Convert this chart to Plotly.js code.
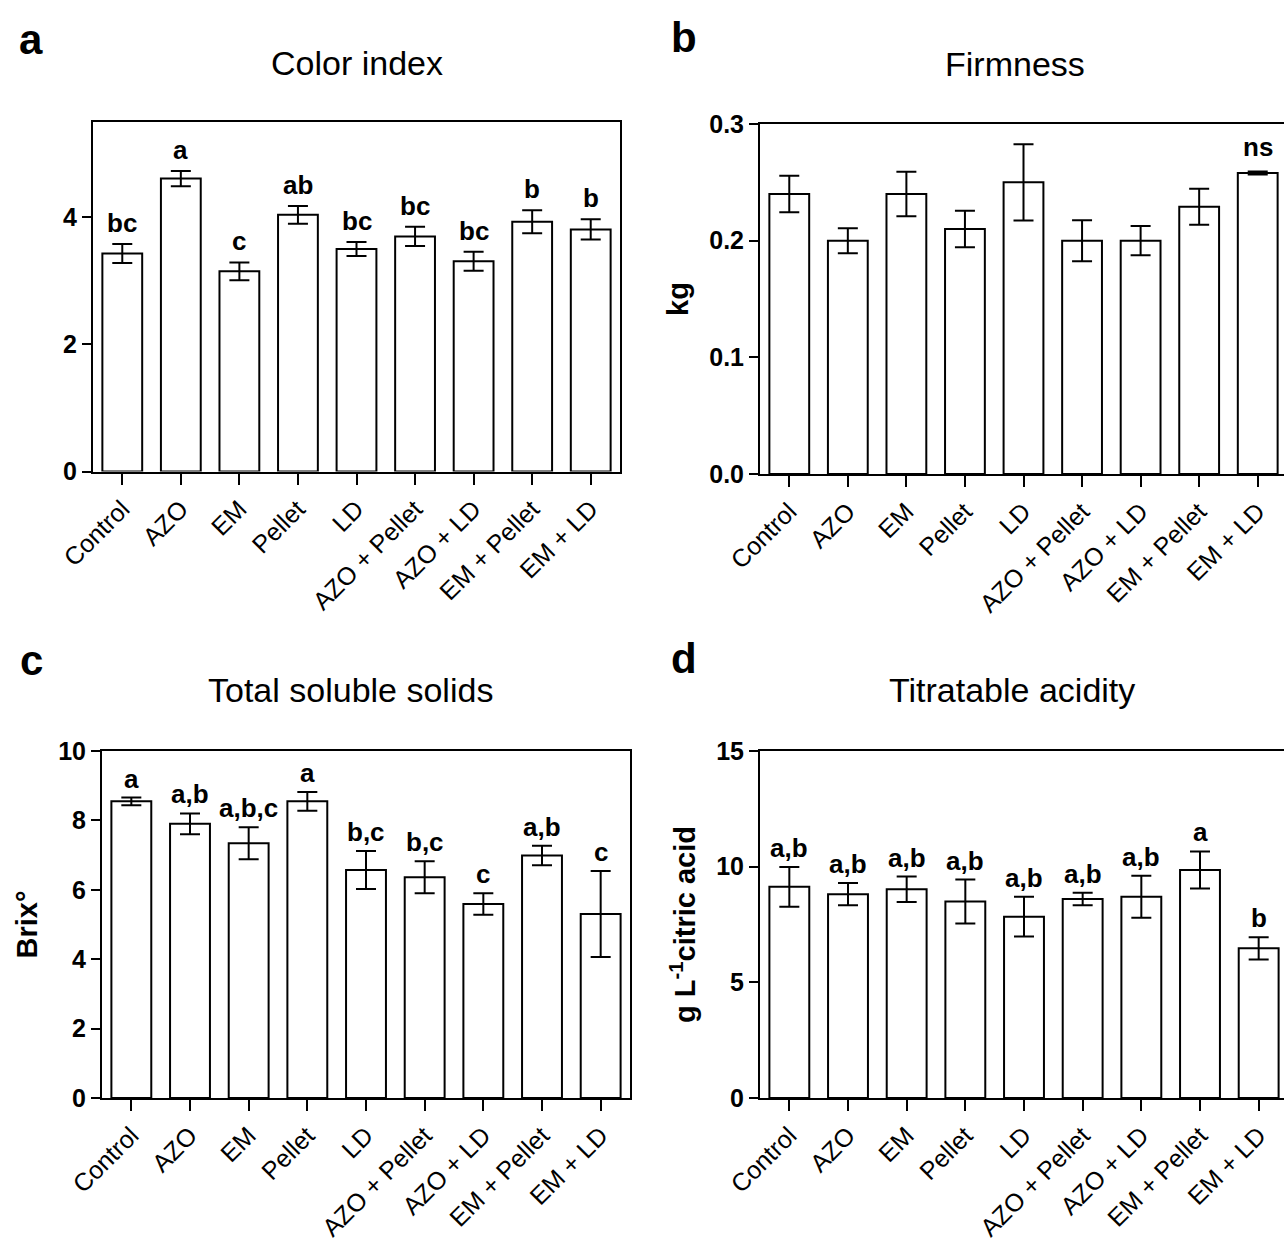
<!DOCTYPE html>
<html>
<head>
<meta charset="utf-8">
<script src="https://cdn.plot.ly/plotly-3.0.1.min.js"></script>
<style>
  html, body { margin: 0; padding: 0; overflow: hidden; background: #fff; }
  #chart { width: 1292px; height: 1245px; }
</style>
</head>
<body>
<div id="chart"></div>
<script>
const categories = ["Control", "AZO", "EM", "Pellet", "LD", "AZO + Pellet", "AZO + LD", "EM + Pellet", "EM + LD"];

const colorIndex = [3.43, 4.61, 3.15, 4.04, 3.50, 3.70, 3.31, 3.93, 3.81];
const colorIndexErr = [0.15, 0.12, 0.14, 0.14, 0.11, 0.15, 0.15, 0.18, 0.16];
const colorIndexLetters = ["bc", "a", "c", "ab", "bc", "bc", "bc", "b", "b"];

const firmness = [0.24, 0.20, 0.24, 0.21, 0.25, 0.20, 0.20, 0.229, 0.258];
const firmnessErr = [0.0157, 0.0107, 0.019, 0.0157, 0.0327, 0.0176, 0.0126, 0.0154, 0.0012];
const firmnessLetters = ["", "", "", "", "", "", "", "", "ns"];

const tss = [8.55, 7.90, 7.34, 8.55, 6.57, 6.36, 5.59, 6.99, 5.30];
const tssErr = [0.11, 0.30, 0.46, 0.27, 0.55, 0.46, 0.31, 0.28, 1.24];
const tssLetters = ["a", "a,b", "a,b,c", "a", "b,c", "b,c", "c", "a,b", "c"];

const acidity = [9.13, 8.81, 9.02, 8.49, 7.84, 8.60, 8.70, 9.86, 6.47];
const acidityErr = [0.86, 0.48, 0.55, 0.95, 0.86, 0.27, 0.91, 0.80, 0.48];
const acidityLetters = ["a,b", "a,b", "a,b", "a,b", "a,b", "a,b", "a,b", "a", "b"];

const W = 1292, H = 1245;
const px = v => v / W;
const py = v => 1 - v / H;

const numFont = {family: "Liberation Sans, Arial", size: 25, color: "#000", weight: "bold"};
const catFont = {family: "Liberation Sans, Arial", size: 25, color: "#000"};
const letterFont = {family: "Liberation Sans, Arial", size: 26, color: "#000", weight: "bold"};
const titleFont = {family: "Liberation Sans, Arial", size: 34, color: "#000"};
const axisTitleFont = {family: "Liberation Sans, Arial", size: 29, color: "#000", weight: "bold"};

function barTrace(vals, errs, xa, ya) {
  return {
    type: "bar", x: categories, y: vals, xaxis: xa, yaxis: ya,
    width: 0.68,
    marker: {color: "#fff", line: {color: "#000", width: 2}},
    error_y: {type: "data", array: errs, visible: true, color: "#000", thickness: 2, width: 10},
    hoverinfo: "skip", showlegend: false
  };
}

const data = [
  barTrace(colorIndex, colorIndexErr, "x", "y"),
  barTrace(firmness, firmnessErr, "x2", "y2"),
  barTrace(tss, tssErr, "x3", "y3"),
  barTrace(acidity, acidityErr, "x4", "y4")
];

function xAxis(d0, d1, anchor) {
  return {
    domain: [px(d0), px(d1)], anchor: anchor, type: "category",
    range: [-0.5, 8.5], showline: true, linecolor: "#000", linewidth: 2, mirror: true,
    ticks: "outside", ticklen: 11, tickwidth: 2, tickcolor: "#000",
    tickangle: -45, tickfont: catFont, showgrid: false, zeroline: false, fixedrange: true
  };
}
function yAxis(top, bottom, anchor, range, tickvals, ticktext, title) {
  const ax = {
    domain: [py(bottom), py(top)], anchor: anchor, range: range,
    tickvals: tickvals, ticktext: ticktext,
    showline: true, linecolor: "#000", linewidth: 2, mirror: true,
    ticks: "outside", ticklen: 9, tickwidth: 2, tickcolor: "#000",
    tickfont: numFont, showgrid: false, zeroline: false, fixedrange: true
  };
  if (title) ax.title = {text: title, font: axisTitleFont, standoff: 12};
  return ax;
}

const annotations = [];
function addLetters(vals, errs, letters, xr, yr, shift) {
  letters.forEach((t, i) => {
    if (!t) return;
    annotations.push({
      x: categories[i], y: vals[i] + errs[i], xref: xr, yref: yr,
      text: t, showarrow: false, yanchor: "bottom", yshift: shift, font: letterFont
    });
  });
}
addLetters(colorIndex, colorIndexErr, colorIndexLetters, "x", "y", 4);
addLetters(firmness, firmnessErr, firmnessLetters, "x2", "y2", 8);
addLetters(tss, tssErr, tssLetters, "x3", "y3", 2);
addLetters(acidity, acidityErr, acidityLetters, "x4", "y4", 2);

const panelTitles = [
  {text: "Color index", x: (93 + 620) / 2, y: 63},
  {text: "Firmness", x: 1015, y: 64},
  {text: "Total soluble solids", x: 350, y: 690},
  {text: "Titratable acidity", x: 1012, y: 690}
];
panelTitles.forEach(t => annotations.push({
  x: px(t.x), y: py(t.y), xref: "paper", yref: "paper", text: t.text,
  showarrow: false, xanchor: "center", yanchor: "middle", font: titleFont
}));
const panelLetters = [
  {text: "a", x: 31, y: 40}, {text: "b", x: 684, y: 38},
  {text: "c", x: 31, y: 660}, {text: "d", x: 684, y: 658}
];
panelLetters.forEach(t => annotations.push({
  x: px(t.x), y: py(t.y), xref: "paper", yref: "paper", text: t.text,
  showarrow: false, xanchor: "center", yanchor: "middle",
  font: {family: "Liberation Sans, Arial", size: 42, color: "#000", weight: "bold"}
}));

const layout = {
  width: W, height: H,
  margin: {l: 0, r: 0, t: 0, b: 0},
  paper_bgcolor: "#fff", plot_bgcolor: "#fff",
  showlegend: false, bargap: 0.3,
  xaxis: xAxis(93, 620, "y"),
  yaxis: yAxis(122, 471.5, "x", [0, 5.5], [0, 2, 4], ["0", "2", "4"]),
  xaxis2: xAxis(760, 1287, "y2"),
  yaxis2: yAxis(124, 474, "x2", [0, 0.3], [0, 0.1, 0.2, 0.3], ["0.0", "0.1", "0.2", "0.3"], "kg"),
  xaxis3: xAxis(102, 630, "y3"),
  yaxis3: yAxis(751, 1098, "x3", [0, 10], [0, 2, 4, 6, 8, 10], ["0", "2", "4", "6", "8", "10"], "Brix°"),
  xaxis4: xAxis(760, 1288, "y4"),
  yaxis4: yAxis(751, 1098, "x4", [0, 15], [0, 5, 10, 15], ["0", "5", "10", "15"], "g L<sup>-1</sup>citric acid"),
  annotations: annotations
};

Plotly.newPlot("chart", data, layout, {displayModeBar: false, staticPlot: true});
</script>
</body>
</html>
